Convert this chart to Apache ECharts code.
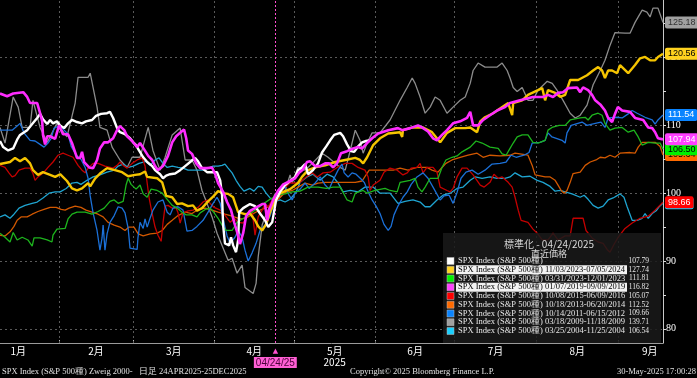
<!DOCTYPE html>
<html>
<head>
<meta charset="utf-8">
<title>SPX Zweig</title>
<script src="https://cdn.jsdelivr.net/npm/echarts@6/dist/echarts.min.js"></script>
<style>
html, body { margin: 0; padding: 0; background: #000; }
#mychart { width: 697px; height: 378px; }
</style>
</head>
<body>
<div id="mychart"></div>
<script>
// x = 通日 (1月1日 = 0), y = 04/24 基準の指数
var monthNames = ['1月', '2月', '3月', '4月', '5月', '6月', '7月', '8月', '9月'];
var monthStarts = [0, 31, 59, 90, 120, 151, 181, 212, 243, 273];
var dayMin = 8.6, dayMax = 260;
var valMin = 77.9, valMax = 128.5;
var baseDay = 113;
var baseLabel = '04/24/25';
var yLabelValues = [80, 90, 100, 110, 120];
var yTickValues = [80, 85, 90, 95, 100, 105, 110, 115, 120, 125];

var legendTitle = '標準化 - 04/24/2025';
var legendSub = '直近価格';
var legendLabels = [
    'SPX Index (S&P 500種)',
    'SPX Index (S&P 500種) 11/03/2023-07/05/2024',
    'SPX Index (S&P 500種) 03/31/2023-12/01/2023',
    'SPX Index (S&P 500種) 01/07/2019-09/09/2019',
    'SPX Index (S&P 500種) 10/08/2015-06/09/2016',
    'SPX Index (S&P 500種) 10/18/2013-06/20/2014',
    'SPX Index (S&P 500種) 10/14/2011-06/15/2012',
    'SPX Index (S&P 500種) 03/18/2009-11/18/2009',
    'SPX Index (S&P 500種) 03/25/2004-11/25/2004'
];
var legendValues = ['107.79', '127.74', '111.81', '116.82', '105.07', '112.52', '109.66', '139.71', '106.54'];
var legendHighlight = [false, true, false, true, false, false, false, false, false];

var footLeft = 'SPX Index (S&P 500種) Zweig 2000-   日足 24APR2025-25DEC2025';
var footMid = 'Copyright© 2025 Bloomberg Finance L.P.';
var footRight = '30-May-2025 17:00:28';

// 2025
var white = [[8.6,107.7],[9.8,106.8],[11.7,106.3],[13.6,106.6],[15.1,107.9],[16.2,108.6],[18.9,109.3],[20.8,110.2],[22.7,111.1],[23.8,111.7],[24.9,110.9],[26.5,110.2],[27.6,110.8],[28.7,110.3],[30.2,110.6],[31.4,110.0],[32.9,109.6],[34.4,110.3],[35.9,110.8],[37.8,110.5],[39.7,110.3],[41.2,110.6],[43.5,110.8],[45.0,111.4],[46.9,111.7],[49.2,111.8],[50.3,112.0],[51.5,111.1],[53.0,109.6],[54.1,109.0],[56.0,108.7],[57.9,108.1],[59.1,107.5],[60.2,107.1],[61.3,106.3],[62.9,105.3],[64.4,104.6],[66.3,104.0],[67.4,103.4],[69.3,102.8],[70.4,102.2],[71.6,102.6],[73.1,102.8],[75.0,102.9],[76.9,103.4],[78.8,104.0],[80.7,104.6],[82.6,105.2],[83.7,104.7],[85.2,103.7],[87.1,103.1],[89.0,103.1],[90.9,103.1],[92.1,101.9],[92.8,99.7],[93.2,95.3],[93.9,92.6],[95.5,92.3],[96.2,93.5],[97.0,92.3],[98.1,91.3],[98.9,93.1],[99.3,97.2],[100.8,97.8],[103.4,98.4],[105.3,98.1],[107.2,97.0],[109.1,96.0],[110.3,95.0],[111.8,95.7],[113.3,99.0],[114.8,100.2],[116.7,101.2],[118.6,101.8],[120.5,102.4],[121.6,103.4],[123.1,103.8],[124.3,104.3],[125.4,102.8],[127.3,103.4],[129.2,104.4],[130.7,106.0],[132.3,106.9],[133.8,107.8],[135.3,108.6],[137.6,108.9],[138.7,108.4],[140.2,107.2],[141.7,106.2],[142.9,106.1],[144.4,106.9],[145.9,107.5],[147.4,107.7],[148.6,107.79]];
// 11/03/2023-07/05/2024
var yellow = [[8.6,104.3],[12.4,104.6],[14.3,105.2],[16.2,104.7],[18.1,105.2],[20.0,104.4],[21.1,103.4],[23.0,102.7],[24.9,103.1],[27.6,102.7],[29.5,102.4],[31.4,102.8],[34.0,101.8],[35.9,100.7],[37.8,100.4],[39.7,100.7],[42.0,101.5],[42.8,101.0],[44.7,102.2],[46.5,102.9],[49.2,103.7],[52.2,103.4],[54.9,103.1],[57.2,102.5],[59.8,102.7],[61.7,102.8],[63.6,103.2],[64.4,102.4],[68.2,102.2],[70.1,101.6],[71.6,99.6],[73.9,99.4],[75.8,98.4],[77.6,98.5],[79.9,98.1],[81.8,98.2],[83.3,97.4],[85.2,97.8],[87.5,98.8],[89.4,99.5],[91.3,100.3],[93.2,100.0],[95.1,99.9],[97.0,99.4],[98.9,97.2],[101.5,96.9],[103.4,97.0],[105.3,96.0],[106.5,95.1],[108.0,94.5],[109.5,95.4],[111.0,97.2],[112.9,99.0],[114.8,100.0],[118.6,100.6],[121.6,101.5],[123.1,102.4],[125.4,103.4],[128.1,103.8],[131.9,104.1],[135.7,104.6],[139.5,104.9],[143.3,105.2],[145.1,104.9],[146.3,104.4],[147.8,105.3],[150.1,107.1],[152.7,108.1],[155.8,108.8],[160.3,109.0],[161.1,108.3],[161.4,109.3],[165.2,109.7],[169.0,109.7],[172.4,109.0],[175.5,107.5],[178.1,108.9],[181.2,109.6],[185.0,109.6],[186.9,109.7],[189.5,109.0],[190.7,110.6],[192.5,111.2],[195.6,111.8],[198.2,112.5],[201.3,113.3],[202.8,111.5],[203.2,113.3],[206.6,113.7],[208.8,114.5],[212.6,115.2],[214.2,115.5],[215.3,113.7],[216.4,115.2],[219.1,114.8],[221.0,114.2],[222.9,114.5],[224.8,116.7],[227.8,116.7],[231.2,117.4],[233.5,118.1],[235.4,118.6],[236.9,118.1],[238.0,117.0],[239.2,118.1],[240.7,118.1],[242.6,117.7],[243.7,118.9],[246.8,117.7],[249.4,118.9],[251.3,119.9],[253.2,120.1],[255.1,119.6],[257.0,119.6],[258.1,120.1],[260.0,120.56]];
// 03/31/2023-12/01/2023
var green = [[8.6,94.1],[10.5,93.5],[12.4,92.8],[13.6,94.2],[15.1,93.1],[17.0,93.5],[19.2,93.1],[20.8,92.2],[21.5,93.4],[23.8,93.4],[26.5,93.1],[28.3,92.8],[28.7,93.8],[30.2,94.7],[33.3,94.8],[34.4,96.2],[35.9,96.9],[37.8,97.2],[40.9,97.2],[43.5,96.9],[45.8,97.3],[48.1,97.8],[50.3,98.8],[51.9,99.0],[53.4,98.5],[55.3,98.8],[56.4,101.2],[57.2,102.2],[58.3,101.3],[60.2,100.6],[61.7,101.2],[62.9,99.9],[64.4,99.4],[65.9,100.6],[68.2,100.4],[70.1,100.0],[72.0,99.1],[73.9,98.2],[75.8,97.8],[77.6,97.2],[79.2,96.8],[81.4,96.8],[83.3,96.5],[84.5,97.1],[86.4,97.6],[88.3,97.8],[89.8,97.1],[91.3,96.3],[92.8,95.3],[94.3,94.5],[96.6,94.5],[98.5,95.7],[100.4,96.2],[102.3,96.6],[104.2,97.2],[106.5,97.8],[108.7,98.5],[111.0,99.1],[113.7,99.7],[116.7,99.9],[119.4,100.2],[122.4,100.3],[125.4,100.9],[129.2,100.9],[132.3,100.7],[134.9,100.9],[137.6,100.9],[138.7,100.1],[140.2,99.0],[142.1,98.7],[143.3,100.0],[146.3,100.4],[147.8,100.0],[150.8,100.4],[154.6,100.7],[156.5,100.4],[159.2,100.2],[160.3,101.6],[164.1,101.9],[166.0,102.2],[167.1,100.9],[168.6,100.2],[169.8,100.9],[171.7,102.2],[174.7,102.2],[176.2,103.8],[177.7,104.9],[180.0,105.3],[181.9,105.5],[183.8,106.1],[186.9,106.8],[189.1,107.7],[191.4,107.4],[194.4,106.8],[197.5,106.6],[199.0,105.8],[200.5,105.6],[202.0,106.6],[203.2,107.4],[204.7,108.3],[206.6,108.6],[208.8,108.6],[210.7,107.5],[212.6,107.4],[215.3,107.8],[216.4,109.3],[217.9,109.7],[220.6,110.0],[222.9,110.0],[224.8,110.8],[228.6,111.1],[230.5,111.2],[231.6,110.8],[233.1,111.5],[235.4,111.8],[236.9,111.5],[238.0,110.3],[239.9,109.3],[241.8,109.6],[244.5,109.7],[246.8,109.0],[249.0,109.3],[250.6,108.3],[252.1,107.1],[254.4,107.5],[257.0,107.4],[258.9,107.4],[260.0,106.50]];
// 01/07/2019-09/09/2019
var magenta = [[8.6,114.7],[11.3,114.3],[13.6,114.7],[17.4,114.9],[18.9,114.2],[20.0,113.3],[22.7,113.3],[23.8,111.8],[24.6,110.6],[24.9,108.6],[25.7,107.2],[26.5,108.4],[27.6,108.4],[29.5,108.0],[31.0,110.0],[32.5,108.7],[34.4,108.7],[35.9,107.4],[37.8,105.2],[39.0,105.2],[39.7,106.1],[40.5,104.6],[42.4,103.8],[43.9,103.7],[45.4,104.9],[46.5,106.6],[48.1,107.5],[49.6,107.5],[51.5,108.1],[53.0,109.3],[54.1,109.9],[55.7,109.3],[56.8,108.4],[58.7,107.7],[60.6,106.8],[61.7,107.4],[63.2,106.5],[64.8,105.5],[66.3,104.9],[67.4,104.0],[68.5,103.4],[70.4,104.0],[72.3,105.5],[73.9,107.5],[75.4,108.4],[76.9,108.9],[78.4,109.4],[79.2,108.1],[79.9,106.3],[81.4,105.8],[83.0,104.4],[84.5,103.7],[87.1,103.7],[89.0,103.8],[90.2,102.8],[91.3,101.5],[93.2,100.2],[94.7,98.7],[96.2,97.5],[97.4,95.7],[98.5,94.3],[99.6,92.5],[100.8,94.1],[101.9,96.6],[103.4,97.4],[105.3,97.8],[108.0,98.4],[109.1,98.4],[109.9,96.0],[110.6,97.5],[112.2,99.0],[114.1,100.4],[116.0,101.3],[118.6,101.8],[120.5,102.2],[122.0,103.0],[123.5,103.5],[125.0,104.6],[126.2,104.7],[128.1,104.0],[130.0,104.0],[131.9,104.4],[133.4,104.4],[134.9,103.8],[136.4,104.4],[137.9,105.9],[140.2,106.2],[142.5,106.6],[144.4,106.8],[145.9,106.6],[147.8,107.4],[149.7,108.1],[152.0,108.8],[155.8,109.3],[159.5,109.6],[161.1,109.3],[164.1,109.6],[167.1,110.0],[168.6,109.7],[170.9,109.1],[172.8,108.1],[174.3,107.8],[176.2,108.6],[178.1,109.3],[180.4,110.3],[183.1,110.6],[185.7,111.1],[186.9,112.0],[188.0,110.0],[189.9,110.0],[191.8,110.8],[194.4,111.5],[197.1,112.2],[200.1,112.7],[202.0,113.3],[205.8,113.7],[208.8,114.0],[210.7,114.2],[214.5,114.2],[216.4,114.5],[218.3,114.2],[220.2,114.8],[222.1,114.9],[224.0,115.5],[227.4,115.6],[228.6,114.9],[229.7,115.6],[231.6,115.2],[233.1,114.5],[234.3,113.7],[236.2,113.1],[238.0,112.2],[239.2,111.1],[240.7,110.5],[241.8,111.7],[242.9,112.7],[244.5,112.2],[247.5,112.0],[249.4,111.1],[252.5,110.8],[254.4,109.7],[255.9,109.6],[257.0,109.0],[258.1,108.1],[260.0,107.94]];
// 10/08/2015-06/09/2016
var red = [[8.6,104.1],[10.5,103.8],[12.0,103.0],[13.2,102.4],[14.3,102.6],[15.8,103.4],[18.1,103.7],[20.0,103.7],[21.1,102.9],[21.9,101.9],[23.0,102.4],[25.3,103.1],[26.8,103.8],[28.7,104.6],[30.6,105.6],[32.5,105.9],[34.4,105.6],[36.3,105.3],[38.2,104.1],[39.7,103.4],[40.9,103.0],[42.0,103.7],[43.9,104.4],[45.8,104.4],[48.4,104.0],[51.5,103.7],[53.0,104.1],[54.1,104.6],[55.3,104.1],[56.8,103.7],[58.7,104.4],[60.6,104.9],[62.5,105.2],[63.6,104.0],[64.4,101.5],[65.1,99.4],[66.3,97.0],[67.4,95.0],[68.5,93.8],[69.7,92.9],[70.4,95.6],[71.2,98.1],[72.3,98.2],[73.9,97.8],[75.4,97.8],[76.1,97.1],[76.9,95.6],[78.0,97.1],[79.9,97.4],[81.8,97.5],[83.7,97.9],[85.6,98.7],[87.1,99.0],[88.3,98.5],[89.8,97.9],[92.1,97.5],[93.6,96.9],[95.9,95.7],[97.4,96.3],[98.9,95.7],[100.8,95.6],[102.7,96.8],[104.2,97.5],[105.3,93.8],[106.5,96.5],[108.0,97.5],[109.1,98.4],[110.3,98.0],[111.8,99.0],[114.1,100.0],[116.0,100.6],[118.6,101.5],[121.3,101.5],[122.4,101.6],[124.7,102.4],[127.0,103.0],[128.9,102.4],[131.1,103.0],[133.8,103.1],[136.4,103.8],[139.5,104.4],[142.1,104.4],[144.4,103.8],[147.0,103.4],[148.2,102.4],[148.9,100.4],[150.1,101.2],[152.7,101.9],[154.2,103.1],[156.5,103.7],[159.2,103.4],[161.4,102.7],[163.0,103.0],[164.5,103.7],[166.7,103.8],[167.9,104.4],[169.0,103.0],[170.5,103.8],[172.8,103.8],[174.3,103.1],[175.5,100.9],[178.1,100.4],[179.3,100.2],[180.4,100.7],[181.9,102.4],[183.8,103.7],[185.7,103.7],[188.0,102.7],[190.7,101.2],[192.2,100.9],[194.4,101.6],[195.9,102.8],[197.5,102.2],[199.0,102.4],[201.3,101.6],[202.8,100.9],[203.9,99.4],[205.1,97.5],[206.2,96.0],[208.8,95.7],[210.7,94.7],[212.3,94.1],[214.2,93.1],[216.4,93.1],[218.3,94.1],[220.2,93.1],[222.9,93.7],[224.8,93.7],[225.9,96.3],[229.7,96.3],[230.8,94.5],[233.1,93.4],[235.4,92.8],[237.3,92.6],[238.8,91.7],[239.9,91.3],[241.5,92.5],[243.0,93.5],[245.6,94.8],[248.3,95.6],[251.3,96.3],[254.4,96.6],[257.0,97.5],[260.0,98.66]];
// 10/18/2013-06/20/2014
var orange = [[8.6,93.8],[10.5,93.7],[12.4,94.3],[13.9,95.1],[15.1,96.0],[16.6,96.5],[18.9,96.5],[20.8,96.9],[23.0,97.3],[25.3,97.6],[27.6,97.9],[29.9,97.9],[31.8,97.6],[33.3,97.5],[34.8,97.8],[37.1,98.1],[39.3,97.9],[41.2,97.5],[43.5,97.2],[45.8,96.9],[47.7,96.5],[49.6,95.7],[51.9,95.3],[54.1,95.0],[56.0,94.5],[57.5,95.0],[59.4,95.0],[61.0,94.0],[62.9,93.7],[65.5,94.0],[68.2,94.1],[70.1,94.5],[72.0,95.4],[73.9,96.0],[76.1,96.7],[78.8,97.2],[81.4,97.0],[83.7,97.6],[86.4,97.8],[89.0,97.5],[91.3,97.2],[93.9,96.9],[96.6,96.6],[99.6,96.2],[101.9,96.3],[104.2,96.9],[106.5,97.4],[109.1,97.8],[111.8,98.2],[114.1,99.1],[116.7,100.1],[119.4,100.4],[121.6,100.9],[124.3,101.5],[127.0,101.2],[129.2,101.5],[131.9,101.6],[135.7,101.6],[139.5,101.6],[143.3,101.6],[145.9,101.8],[147.4,102.7],[148.6,103.4],[152.7,103.4],[157.7,103.4],[160.3,103.7],[163.3,103.4],[166.7,103.8],[170.5,103.8],[172.4,103.4],[174.7,103.1],[176.2,103.8],[177.7,104.4],[180.0,104.9],[183.1,105.3],[186.1,105.6],[189.5,105.9],[191.8,105.3],[194.4,105.6],[198.2,105.5],[202.0,105.6],[203.9,105.9],[208.8,105.6],[210.4,104.1],[211.5,102.7],[215.3,102.4],[217.2,102.4],[219.1,101.9],[220.2,101.2],[221.4,100.4],[222.5,100.0],[223.6,100.4],[224.8,101.6],[225.9,102.9],[228.6,103.1],[230.5,104.1],[232.4,104.6],[234.6,104.9],[236.2,105.3],[238.0,105.2],[239.9,105.6],[241.8,105.3],[243.7,105.9],[247.5,106.0],[249.4,105.9],[250.6,106.8],[252.1,107.5],[254.4,107.5],[257.0,107.5],[258.9,106.9],[260.0,105.64]];
// 10/14/2011-06/15/2012
var blue = [[8.6,109.3],[13.2,109.3],[15.1,109.9],[16.2,110.3],[17.7,108.9],[20.0,107.8],[21.9,107.7],[23.8,107.2],[25.3,106.8],[26.8,107.4],[28.0,108.1],[29.1,109.6],[31.4,110.0],[32.9,109.3],[34.4,108.7],[35.6,106.9],[37.5,105.6],[39.3,105.0],[40.9,103.8],[42.0,102.2],[42.8,99.6],[43.9,97.1],[45.4,94.5],[46.5,91.6],[47.3,93.4],[47.7,95.3],[48.4,91.6],[49.2,94.0],[50.3,95.7],[51.9,96.7],[53.4,98.0],[54.9,97.8],[56.0,97.1],[57.2,94.8],[57.9,91.9],[60.6,91.7],[60.9,93.4],[61.7,95.7],[62.9,94.8],[63.6,96.2],[64.4,95.0],[65.5,96.3],[66.6,97.5],[68.5,98.7],[70.4,99.0],[72.0,97.2],[73.1,96.8],[74.2,97.8],[76.1,98.0],[78.0,97.5],[79.5,94.4],[81.4,94.5],[83.3,95.1],[85.6,96.0],[87.5,97.2],[89.4,98.5],[90.9,99.4],[92.1,98.5],[93.2,96.2],[94.7,93.7],[95.9,92.6],[97.7,93.5],[98.9,94.5],[100.4,93.5],[101.5,91.6],[102.7,90.0],[104.2,91.2],[105.7,92.6],[107.2,94.5],[109.1,95.3],[111.0,96.6],[112.9,99.0],[114.4,100.4],[116.7,100.9],[118.2,99.7],[119.4,99.0],[120.5,100.0],[122.4,100.6],[124.3,101.5],[125.8,100.7],[128.1,101.5],[130.0,102.4],[131.9,101.2],[133.4,100.6],[134.9,101.9],[136.8,103.4],[138.3,104.3],[139.1,103.0],[140.6,102.4],[142.1,103.0],[143.6,102.8],[145.5,102.1],[146.7,101.6],[148.2,100.2],[149.7,99.0],[151.2,98.1],[152.7,97.0],[154.2,95.4],[155.8,94.5],[156.9,95.1],[158.0,96.8],[159.5,98.1],[161.4,99.4],[163.0,100.2],[164.5,101.3],[166.7,102.4],[169.0,103.0],[170.9,102.2],[172.8,100.9],[175.5,99.0],[177.0,99.6],[178.9,99.7],[180.4,98.5],[181.9,100.1],[183.4,102.2],[185.3,103.1],[187.6,103.4],[189.9,102.8],[192.5,103.4],[195.2,104.3],[198.2,104.4],[200.5,104.6],[202.4,105.6],[204.3,105.3],[207.3,105.6],[209.2,106.0],[210.4,107.4],[213.4,107.5],[215.3,107.8],[216.4,108.9],[217.9,108.3],[221.7,107.8],[222.9,107.4],[223.6,108.9],[225.2,110.0],[229.3,110.5],[231.2,110.0],[234.3,110.3],[236.5,110.5],[238.0,109.7],[239.2,111.1],[242.9,111.2],[244.5,111.1],[246.8,111.7],[248.3,112.2],[250.2,111.8],[253.2,111.2],[255.9,110.8],[257.0,110.2],[258.1,110.8],[260.0,111.54]];
// 03/18/2009-11/18/2009
var gray = [[8.6,109.7],[10.5,107.4],[13.6,114.2],[15.5,112.7],[17.0,109.7],[20.0,109.7],[21.1,113.7],[23.8,109.7],[26.5,107.5],[30.2,110.3],[34.0,108.3],[37.1,113.3],[38.2,117.1],[42.0,117.1],[42.8,117.7],[45.4,112.7],[46.5,109.7],[49.2,109.3],[51.1,106.8],[54.1,104.9],[56.8,103.8],[58.7,105.3],[61.7,105.3],[64.8,109.7],[66.6,106.3],[69.3,103.4],[71.2,105.3],[73.9,108.6],[76.9,109.6],[78.8,104.9],[81.4,104.9],[83.3,103.4],[85.2,100.4],[87.1,98.5],[89.0,96.5],[90.9,94.1],[92.8,92.3],[95.1,90.1],[96.6,90.4],[98.5,88.2],[100.4,89.4],[101.5,86.1],[104.6,85.2],[105.7,86.7],[106.5,90.6],[108.0,95.3],[109.1,96.5],[111.0,98.2],[112.9,99.9],[114.8,99.4],[116.7,100.4],[118.6,102.7],[119.4,101.5],[121.6,103.8],[124.3,103.4],[127.0,104.4],[130.7,105.9],[133.0,105.3],[137.6,103.8],[139.5,103.4],[141.4,106.3],[143.3,109.3],[145.1,107.8],[146.3,105.9],[147.8,107.4],[149.7,108.9],[152.7,108.9],[156.5,110.8],[160.3,113.7],[163.0,115.6],[164.9,117.0],[166.0,116.2],[167.9,114.2],[169.8,111.8],[171.7,112.7],[173.6,114.2],[175.5,113.7],[178.1,111.8],[180.4,112.7],[183.1,113.7],[185.0,114.2],[186.9,116.2],[188.0,118.1],[189.9,119.2],[192.5,118.6],[197.1,118.6],[199.0,119.2],[200.9,118.1],[202.0,117.0],[203.2,115.6],[204.7,115.0],[206.6,115.6],[208.8,113.7],[210.7,113.7],[212.6,115.2],[216.1,116.5],[218.0,116.2],[219.8,115.2],[222.1,113.7],[224.8,111.8],[226.7,111.1],[228.6,111.5],[231.2,113.0],[233.5,116.0],[236.2,118.1],[238.0,119.6],[239.9,121.8],[241.8,123.7],[245.6,123.6],[247.5,123.6],[249.4,125.2],[252.1,127.0],[253.9,126.7],[255.1,126.0],[256.2,127.3],[258.1,127.3],[260.0,125.18]];
// 03/25/2004-11/25/2004
var cyan = [[8.6,96.5],[10.5,96.8],[12.4,96.3],[13.9,96.9],[15.8,97.8],[18.1,98.2],[20.8,98.5],[22.7,98.7],[24.9,99.3],[27.2,100.0],[29.5,100.2],[31.4,100.2],[33.7,100.7],[35.9,101.5],[37.8,101.6],[39.3,101.3],[41.6,101.9],[43.9,102.4],[46.5,102.7],[49.2,103.1],[51.9,103.4],[53.4,104.0],[55.3,104.3],[57.2,103.8],[59.1,104.0],[61.3,104.4],[64.0,104.7],[65.5,104.1],[67.4,104.9],[68.9,105.2],[70.4,104.4],[72.0,103.8],[73.9,104.0],[76.1,103.8],[78.0,103.7],[79.9,103.4],[81.8,103.4],[83.7,103.4],[85.6,103.4],[87.5,103.7],[89.4,104.0],[91.3,104.0],[92.8,104.1],[93.9,104.3],[95.1,103.7],[96.6,103.0],[98.1,101.9],[99.6,101.0],[101.1,100.3],[103.4,100.7],[104.9,100.3],[106.5,101.0],[108.0,100.9],[109.5,100.0],[111.0,99.3],[112.9,98.8],[114.8,99.0],[116.7,98.7],[118.6,99.1],[120.9,100.2],[122.4,101.6],[125.0,102.4],[127.3,102.8],[130.0,101.9],[132.6,102.8],[134.9,102.4],[136.8,101.5],[138.7,100.2],[141.4,100.4],[144.4,100.2],[147.0,100.9],[150.1,100.9],[152.7,100.0],[156.5,100.0],[159.5,98.5],[162.2,98.8],[165.2,99.0],[167.9,98.7],[169.8,98.0],[171.7,98.0],[174.3,99.0],[176.6,99.7],[179.3,100.0],[181.9,100.7],[184.2,100.9],[186.9,101.9],[188.8,102.4],[191.4,102.2],[194.4,102.4],[197.1,102.2],[200.1,102.2],[202.0,102.4],[203.9,103.0],[206.6,102.4],[209.6,102.5],[212.3,101.9],[214.5,101.6],[217.2,101.0],[219.1,100.3],[221.0,100.4],[222.9,100.2],[225.5,99.9],[228.6,99.4],[230.1,99.7],[231.6,99.1],[233.5,98.2],[235.4,97.8],[237.3,98.1],[239.2,99.0],[241.1,99.3],[243.7,99.9],[245.2,99.4],[246.4,98.0],[248.3,96.0],[250.2,96.0],[252.1,96.3],[253.2,97.0],[254.4,96.3],[255.9,97.0],[257.4,97.4],[258.5,98.0],[260.0,98.52]];

// 凡例順: 2025, 2023-24, 2023, 2019, 2015, 2013, 2011, 2009, 2004
var seriesData = [white, yellow, green, magenta, red, orange, blue, gray, cyan];
var lineColors = ['#ffffff', '#f5c400', '#1db41d', '#ff2cff', '#c40000', '#d25800', '#1b70d8', '#8c8c8c', '#1fa4d0'];
var swatchColors = ['#ffffff', '#ffd21f', '#00f000', '#ff40ff', '#ff0000', '#ff6a00', '#0a84ff', '#a0a0a0', '#1ad0ff'];
var tagText = [null, '#000', '#000', '#fff', '#fff', '#000', '#fff', '#333', '#000'];
var lineWidths = [2.4, 2.4, 1.3, 2.6, 1.3, 1.3, 1.3, 1.3, 1.3];
// 描画順 (後ろが前面)
var drawOrder = [7, 8, 5, 4, 6, 2, 1, 0, 3];

var myChart = echarts.init(document.getElementById('mychart'));

var gridLines = [];
for (var m = 1; m < monthStarts.length; m++) {
    if (monthStarts[m] > dayMin && monthStarts[m] < dayMax) {
        gridLines.push({ xAxis: monthStarts[m] });
    }
}
for (var k = 0; k < yLabelValues.length; k++) {
    gridLines.push({ yAxis: yLabelValues[k] });
}
gridLines.push({
    xAxis: baseDay,
    lineStyle: { color: '#ff4fd0', type: [2, 2], width: 1 },
    label: {
        show: true,
        position: 'start',
        distance: 3,
        formatter: '{t|▲}\n{b|' + baseLabel + '}',
        rich: {
            t: { color: '#ff4fd0', fontSize: 7, lineHeight: 11, align: 'center', fontFamily: 'DejaVu Sans' },
            b: { color: '#4a0038', backgroundColor: '#ff5fd4', fontSize: 10, fontFamily: 'Liberation Sans', padding: [1, 2, 0, 2], lineHeight: 11 }
        }
    }
});

var monthMids = [];
for (var i = 0; i < monthNames.length; i++) {
    monthMids.push(Math.min((monthStarts[i] + monthStarts[i + 1]) / 2, dayMax - 5));
}

var series = [];
for (var j = 0; j < drawOrder.length; j++) {
    var idx = drawOrder[j];
    var s = {
        name: legendLabels[idx],
        type: 'line',
        data: seriesData[idx],
        symbol: 'none',
        z: 2 + j,
        animation: false,
        silent: true,
        lineStyle: { color: lineColors[idx], width: lineWidths[idx] }
    };
    if (tagText[idx]) {
        s.endLabel = {
            show: true,
            distance: 2,
            formatter: function (p) { return p.value[1].toFixed(2); },
            backgroundColor: swatchColors[idx],
            color: tagText[idx],
            fontSize: 9,
            fontFamily: 'Liberation Sans',
            padding: [2, 3, 1, 3],
            borderRadius: 2
        };
    }
    if (j == 0) {
        s.markLine = {
            z: 1,
            silent: true,
            symbol: 'none',
            animation: false,
            label: { show: false },
            lineStyle: { color: '#5a5a5a', type: [2, 3], width: 1 },
            data: gridLines
        };
    }
    series.push(s);
}

// 凡例ボックス
var lx = 443, ly = 233;
var legendFont = '8.5px "Liberation Serif"';
var valueFont = '7.5px "Liberation Serif"';
var graphics = [
    { type: 'rect', z: 100, shape: { x: lx, y: ly, width: 218, height: 110 }, style: { fill: 'rgba(26,26,26,0.86)' } },
    { type: 'text', z: 101, style: { x: lx + 106, y: ly + 11, text: legendTitle, fill: '#d8d8d8', font: '10px "Noto Sans CJK JP"', textAlign: 'center', textVerticalAlign: 'middle', align: 'center', verticalAlign: 'middle' } },
    { type: 'text', z: 101, style: { x: lx + 106, y: ly + 21, text: legendSub, fill: '#d8d8d8', font: '9px "Noto Sans CJK JP"', textAlign: 'center', textVerticalAlign: 'middle', align: 'center', verticalAlign: 'middle' } }
];
for (var r = 0; r < legendLabels.length; r++) {
    var ry = ly + 28 + r * 8.75;
    graphics.push({ type: 'rect', z: 101, shape: { x: lx + 4, y: ry - 3.5, width: 7, height: 7 }, style: { fill: swatchColors[r], stroke: '#bbb', lineWidth: 0.5 } });
    if (legendHighlight[r]) {
        graphics.push({ type: 'rect', z: 101, shape: { x: lx + 13, y: ry - 4.5, width: 171, height: 9 }, style: { fill: '#f2f2f2' } });
    }
    graphics.push({ type: 'text', z: 102, style: { x: lx + 15, y: ry, text: legendLabels[r], fill: legendHighlight[r] ? '#000' : '#e6e6e6', font: legendFont, textVerticalAlign: 'middle', verticalAlign: 'middle' } });
    graphics.push({ type: 'text', z: 102, style: { x: lx + 206, y: ry, text: legendValues[r], fill: '#e6e6e6', font: valueFont, textAlign: 'right', align: 'right', textVerticalAlign: 'middle', verticalAlign: 'middle' } });
}
// 下部の注記
graphics.push({ type: 'text', z: 101, style: { x: 2, y: 372, text: footLeft, fill: '#e0e0e0', font: '8.5px "Liberation Serif"', textVerticalAlign: 'middle', verticalAlign: 'middle' } });
graphics.push({ type: 'text', z: 101, style: { x: 350, y: 372, text: footMid, fill: '#e0e0e0', font: '8.5px "Liberation Serif"', textVerticalAlign: 'middle', verticalAlign: 'middle' } });
graphics.push({ type: 'text', z: 101, style: { x: 696, y: 372, text: footRight, fill: '#e0e0e0', font: '8.5px "Liberation Serif"', textAlign: 'right', align: 'right', textVerticalAlign: 'middle', verticalAlign: 'middle' } });

myChart.setOption({
    backgroundColor: '#000',
    animation: false,
    grid: { left: 0, right: 34, top: 0, bottom: 35, containLabel: false },
    xAxis: {
        type: 'value',
        min: dayMin,
        max: dayMax,
        axisLine: { show: true, lineStyle: { color: '#9a9a9a', width: 1 } },
        axisTick: { show: true, inside: true, length: 3, customValues: monthStarts.slice(1, 9), lineStyle: { color: '#bbb' } },
        axisLabel: {
            show: true,
            customValues: monthMids,
            margin: 3,
            color: '#fff',
            fontSize: 10,
            lineHeight: 11,
            fontFamily: 'Noto Sans CJK JP',
            formatter: function (v) {
                for (var i = 0; i < monthMids.length; i++) {
                    if (Math.abs(monthMids[i] - v) < 0.01) {
                        return i == 4 ? monthNames[i] + '\n2025' : monthNames[i];
                    }
                }
                return '';
            }
        },
        splitLine: { show: false }
    },
    yAxis: {
        type: 'value',
        position: 'right',
        min: valMin,
        max: valMax,
        axisLine: { show: true, lineStyle: { color: '#c8c8c8', width: 1 } },
        axisTick: { show: true, length: 3, customValues: yTickValues, lineStyle: { color: '#ddd' } },
        axisLabel: { show: true, customValues: yLabelValues, margin: 3, color: '#fff', fontSize: 10, fontFamily: 'Liberation Serif' },
        splitLine: { show: false }
    },
    graphic: graphics,
    series: series
});
</script>
</body>
</html>
